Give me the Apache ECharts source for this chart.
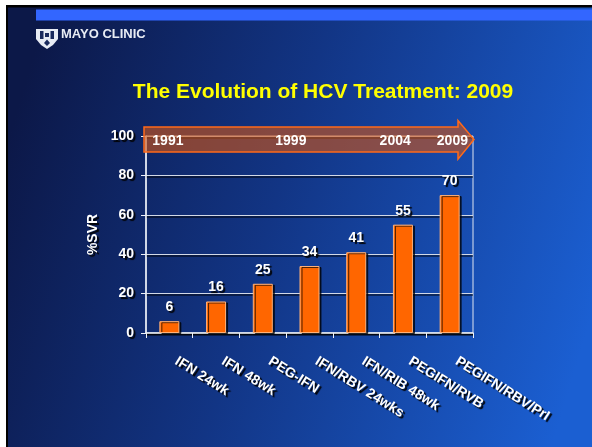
<!DOCTYPE html>
<html>
<head>
<meta charset="utf-8">
<script src="https://cdn.jsdelivr.net/npm/echarts@6/dist/echarts.min.js"></script>
<style>
  html, body { margin: 0; padding: 0; background: #ffffff; }
  #chart { width: 592px; height: 447px; }
</style>
</head>
<body>
<div id="chart"></div>
<script>
// Treatment regimens and their sustained virological response rates (%)
const categories = ['IFN 24wk', 'IFN 48wk', 'PEG-IFN', 'IFN/RBV 24wks', 'IFN/RIB 48wk', 'PEGIFN/RVB', 'PEGIFN/RBV/PrI'];
const svrValues = [6, 16, 25, 34, 41, 55, 70];
const yTicks = [0, 20, 40, 60, 80, 100];
// Timeline milestones shown along the arrow
const timelineYears = ['1991', '1999', '2004', '2009'];

const chart = echarts.init(document.getElementById('chart'), null, { renderer: 'canvas' });

const textShadow = { textShadowColor: 'rgba(0,0,0,0.95)', textShadowBlur: 1, textShadowOffsetX: 2, textShadowOffsetY: 2 };
const boldWhite = Object.assign({ color: '#ffffff', fontFamily: 'Liberation Sans, Arial, sans-serif', fontWeight: 'bold', fontSize: 14 }, textShadow);

const GRID = { left: 146, right: 119, top: 136, bottom: 114 };

chart.setOption({
  animation: false,
  backgroundColor: 'transparent',
  grid: Object.assign({ show: true, borderColor: '#dfe5f0', borderWidth: 1, backgroundColor: 'transparent' }, GRID),
  xAxis: {
    type: 'category',
    data: categories,
    axisLine: { lineStyle: { color: '#eef2f8', width: 1.5, shadowColor: '#000', shadowOffsetY: 1 } },
    axisTick: { show: true, length: 5, lineStyle: { color: '#eef2f8' } },
    axisLabel: Object.assign({}, boldWhite, { rotate: -32, margin: 23, padding: [0, 0, 0, 8], interval: 0 })
  },
  yAxis: {
    type: 'value',
    min: yTicks[0],
    max: yTicks[yTicks.length - 1],
    interval: yTicks[1] - yTicks[0],
    name: '%SVR',
    nameLocation: 'middle',
    nameGap: 45,
    nameRotate: 90,
    nameTextStyle: boldWhite,
    axisLine: { show: true, lineStyle: { color: '#eef2f8', width: 1.5 } },
    axisTick: { show: true, length: 5, lineStyle: { color: '#eef2f8' } },
    axisLabel: Object.assign({}, boldWhite, { margin: 12 }),
    splitLine: { show: true, lineStyle: { color: '#d2d9e8', width: 1.2, shadowColor: 'rgba(0,0,0,0.9)', shadowOffsetY: 1.5 } }
  },
  series: [{
    type: 'bar',
    data: svrValues,
    barWidth: 20,
    itemStyle: {
      color: '#ff6600',
      borderColor: '#ffb27a',
      borderWidth: 1,
      shadowColor: 'rgba(0,0,0,0.7)',
      shadowOffsetX: 2,
      shadowOffsetY: 1
    },
    label: Object.assign({ show: true, position: 'top', distance: 7 }, boldWhite),
    z: 3
  }]
});

// Slide backdrop, logo and title, plus the timeline arrow laid over the plot
function drawDecor() {
  const W = 592, H = 447;
  const left = GRID.left, right = W - GRID.right;
  const plotW = right - left;
  const yPx = v => chart.convertToPixel({ yAxisIndex: 0 }, v);

  const shaftTop = yPx(104.6), shaftBot = yPx(91.9);
  const headTop = yPx(107.8), headBot = yPx(88.2);
  const midY = (shaftTop + shaftBot) / 2;
  const tipX = right + 1, headBase = right - 15, tailX = left - 2;

  const yearFrac = [0.067, 0.443, 0.762, 0.937];
  const shadowTxt = { shadowColor: 'rgba(0,0,0,0.95)', shadowOffsetX: 2, shadowOffsetY: 2, shadowBlur: 1 };

  const elements = [
    { type: 'rect', z: -10, silent: true, shape: { x: 6, y: 5, width: W - 6, height: H - 5 }, style: { fill: '#000000' } },
    { type: 'rect', z: -9, silent: true, shape: { x: 8, y: 7.5, width: W - 8, height: H - 7.5 },
      style: { fill: new echarts.graphic.LinearGradient(0, 0.3, 1, 0.7, [
        { offset: 0, color: '#0c1848' },
        { offset: 0.45, color: '#123585' },
        { offset: 1, color: '#1b5fd2' }
      ]) } },
    { type: 'rect', z: -8, silent: true, shape: { x: 36, y: 9.5, width: W - 36, height: 11 }, style: { fill: '#3366ff' } },
    // Shield emblem
    { type: 'polygon', z: 10, silent: true,
      shape: { points: [[36, 29], [58, 29], [58, 39], [53, 45], [47, 49], [41, 45], [36, 39]] },
      style: { fill: '#e8ecf4' } },
    { type: 'rect', z: 11, silent: true, shape: { x: 40, y: 31, width: 3.5, height: 8 }, style: { fill: '#1a2a5c' } },
    { type: 'rect', z: 11, silent: true, shape: { x: 50.5, y: 31, width: 3.5, height: 8 }, style: { fill: '#1a2a5c' } },
    { type: 'rect', z: 11, silent: true, shape: { x: 45, y: 33, width: 4, height: 4 }, style: { fill: '#1a2a5c' } },
    { type: 'polygon', z: 11, silent: true, shape: { points: [[44, 43], [47, 39.5], [50, 43], [47, 46]] }, style: { fill: '#1a2a5c' } },
    { type: 'text', z: 10, silent: true, left: 61, top: 28,
      style: { text: 'MAYO CLINIC', fill: '#e8ecf4', font: '900 13px "Liberation Sans", Arial, sans-serif' } },
    // Title
    { type: 'text', z: 10, silent: true, x: 323, y: 92,
      style: Object.assign({ text: 'The Evolution of HCV Treatment: 2009', fill: '#ffff00', textAlign: 'center', textVerticalAlign: 'middle',
        font: 'bold 21px "Liberation Sans", Arial, sans-serif' }, shadowTxt, { shadowOffsetX: 2, shadowOffsetY: 2 }) },
    // Timeline arrow
    { type: 'polygon', z: 20, silent: true,
      shape: { points: [[tailX, shaftTop], [headBase, shaftTop], [headBase, headTop], [tipX, midY], [headBase, headBot], [headBase, shaftBot], [tailX, shaftBot]] },
      style: { fill: 'rgba(212,86,22,0.6)', stroke: '#ff6a1a', lineWidth: 1.5 } }
  ];

  timelineYears.forEach((yr, i) => {
    elements.push({ type: 'text', z: 21, silent: true, x: left + plotW * yearFrac[i], y: midY + 1.5,
      style: Object.assign({ text: yr, fill: '#ffffff', textAlign: 'center', textVerticalAlign: 'middle',
        font: 'bold 14px "Liberation Sans", Arial, sans-serif' }, shadowTxt) });
  });

  chart.setOption({ graphic: { elements: elements } });
}
drawDecor();
</script>
</body>
</html>
